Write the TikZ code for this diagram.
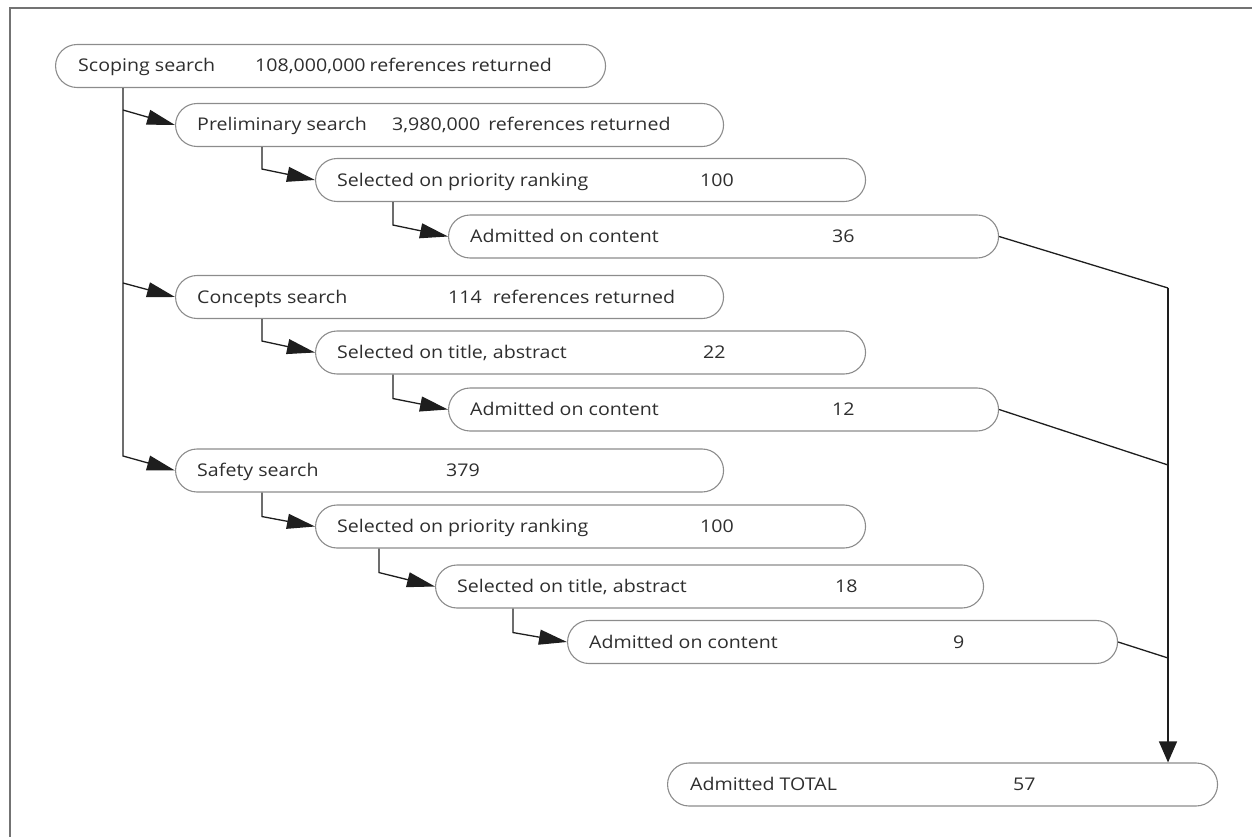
\documentclass[tikz,border=0pt]{standalone}
\usepackage{fontspec}
\setmainfont{Open Sans}[FakeStretch=1.12]
\usetikzlibrary{arrows.meta}
\definecolor{txt}{HTML}{2E2E2E}
\definecolor{bord}{HTML}{8C8C8C}
\definecolor{ln}{HTML}{1E1E1E}
\tikzset{
  pill/.style={draw=bord, line width=1.1pt, rectangle, rounded corners=21.5pt,
    minimum width=550pt, minimum height=43pt, inner sep=0pt, anchor=west},
  lbl/.style={anchor=base west, inner sep=0pt, text=txt, font=\fontsize{17.5}{20}\selectfont},
  conn/.style={draw=ln, line width=1.3pt},
  arr/.style={conn, -{Triangle[length=28pt,width=15pt]}},
  bigarr/.style={conn, -{Triangle[length=21pt,width=18pt]}},
}
\begin{document}
\begin{tikzpicture}[x=1pt,y=-1pt]
\useasboundingbox (0,0) rectangle (1252,837);
\draw[color=gray!90!black, line width=1.6pt] (10,837) -- (10,8) -- (1252,8);

% nodes
\node[pill] (n1) at (55,66) {};
\node[pill, minimum width=548pt] (n2) at (175,125) {};
\node[pill] (n3) at (315,180) {};
\node[pill] (n4) at (448,236.5) {};
\node[pill, minimum width=548pt] (n5) at (175,297) {};
\node[pill] (n6) at (315,352.5) {};
\node[pill] (n7) at (448,409.5) {};
\node[pill, minimum width=548pt] (n8) at (175,470.5) {};
\node[pill] (n9) at (315,526.5) {};
\node[pill, minimum width=548pt] (n10) at (435,586.5) {};
\node[pill] (n11) at (567,642) {};
\node[pill] (n12) at (667,784.5) {};

% labels
\node[lbl] (l1a) at (78,72) {Scoping search};
\node[lbl] (l1b) at (255,72) {108,000,000\hspace{4pt}references returned};
\node[lbl] (l2a) at (197,131) {Preliminary search};
\node[lbl] (l2b) at (392,131) {3,980,000\hspace{8pt}references returned};
\node[lbl] (l3a) at (337,186) {Selected on priority ranking};
\node[lbl] (l3b) at (700,186) {100};
\node[lbl] (l4a) at (470,242.5) {Admitted on content};
\node[lbl] (l4b) at (832,242.5) {36};
\node[lbl] (l5a) at (197,303) {Concepts search};
\node[lbl] (l5b) at (448,303) {114\hspace{11pt}references returned};
\node[lbl] (l6a) at (337,358.5) {Selected on title, abstract};
\node[lbl] (l6b) at (703,358.5) {22};
\node[lbl] (l7a) at (470,415.5) {Admitted on content};
\node[lbl] (l7b) at (832,415.5) {12};
\node[lbl] (l8a) at (197,476.5) {Safety search};
\node[lbl] (l8b) at (446,476.5) {379};
\node[lbl] (l9a) at (337,532.5) {Selected on priority ranking};
\node[lbl] (l9b) at (700,532.5) {100};
\node[lbl] (l10a) at (457,592.5) {Selected on title, abstract};
\node[lbl] (l10b) at (835,592.5) {18};
\node[lbl] (l11a) at (589,648) {Admitted on content};
\node[lbl] (l11b) at (953,648) {9};
\node[lbl] (l12a) at (690,790.5) {Admitted TOTAL};
\node[lbl] (l12b) at (1013,790.5) {57};

% left trunk
\coordinate (t0) at ([xshift=68pt]n1.south west);
\coordinate (t1) at (123,110);
\coordinate (t2) at (123,283);
\coordinate (t3) at (123,456);
\draw[arr] (t0) -- (t3) -- (n8.west);
\draw[arr] (t1) -- (n2.west);
\draw[arr] (t2) -- (n5.west);

% sub drops
\draw[arr] ([xshift=87pt]n2.south west) -- ++(0,22) -- (n3.west);
\draw[arr] ([xshift=78pt]n3.south west) -- ++(0,23) -- (n4.west);
\draw[arr] ([xshift=87pt]n5.south west) -- ++(0,22) -- (n6.west);
\draw[arr] ([xshift=78pt]n6.south west) -- ++(0,24) -- (n7.west);
\draw[arr] ([xshift=87pt]n8.south west) -- ++(0,24) -- (n9.west);
\draw[arr] ([xshift=64pt]n9.south west) -- ++(0,24) -- (n10.west);
\draw[arr] ([xshift=78pt]n10.south west) -- ++(0,24) -- (n11.west);

% right collector
\coordinate (r1) at (1168,288);
\coordinate (r2) at (1168,465);
\coordinate (r3) at (1168,658);
\draw[conn] (n4.east) -- (r1);
\draw[conn] (n7.east) -- (r2);
\draw[conn] (n11.east) -- (r3);
\draw[bigarr] (r1) -- ([xshift=501pt]n12.north west);
\end{tikzpicture}
\end{document}
